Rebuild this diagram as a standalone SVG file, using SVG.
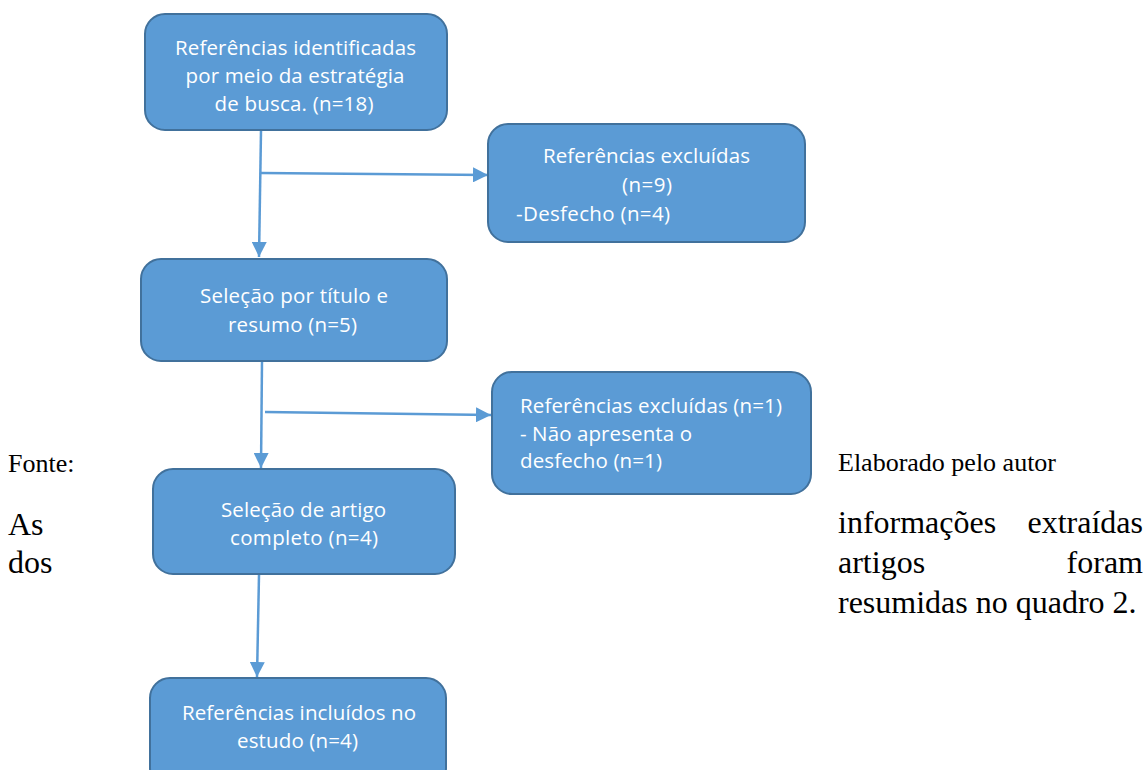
<svg xmlns="http://www.w3.org/2000/svg" width="1145" height="770" viewBox="0 0 1145 770">
<style>
.box{fill:#5b9bd5;stroke:#41719c;stroke-width:2}
.bt{font-family:"Open Sans","Noto Sans",sans-serif;font-size:20.5px;fill:#ffffff}
.c{text-anchor:middle}
.conn{stroke:#5b9bd5;stroke-width:2.5;fill:none;marker-end:url(#arr)}
.body{font-family:"Liberation Serif","Times New Roman",serif;fill:#000000}
.cap{font-size:26px}
.para{font-size:32px}
</style>
<defs>
<marker id="arr" markerUnits="userSpaceOnUse" markerWidth="16" markerHeight="15" refX="15" refY="7.5" orient="auto" viewBox="0 0 16 15">
<path d="M0,0 L15,7.5 L0,15 z" fill="#5b9bd5"/>
</marker>
</defs>
<rect width="1145" height="770" fill="#ffffff"/>
<g id="connectors">
<line class="conn" x1="261" y1="131" x2="259" y2="257"/>
<line class="conn" x1="261" y1="173" x2="488" y2="175"/>
<line class="conn" x1="262" y1="361" x2="261" y2="468"/>
<line class="conn" x1="265" y1="412" x2="491" y2="415"/>
<line class="conn" x1="259" y1="575" x2="257" y2="677"/>
</g>
<g id="n1">
<rect class="box" x="145" y="14" width="302" height="116" rx="20"/>
<text class="bt c" x="295.5" y="55" textLength="241">Referências identificadas</text>
<text class="bt c" x="295" y="83" textLength="219">por meio da estratégia</text>
<text class="bt c" x="294" y="111" textLength="159">de busca. (n=18)</text>
</g>
<g id="n2">
<rect class="box" x="488" y="124" width="317" height="118" rx="20"/>
<text class="bt c" x="646.5" y="163" textLength="207">Referências excluídas</text>
<text class="bt c" x="647" y="192" textLength="50">(n=9)</text>
<text class="bt" x="516" y="221" textLength="154">-Desfecho (n=4)</text>
</g>
<g id="n3">
<rect class="box" x="141" y="259" width="306" height="102" rx="20"/>
<text class="bt c" x="294" y="303" textLength="188">Seleção por título e</text>
<text class="bt c" x="292.5" y="332" textLength="129">resumo (n=5)</text>
</g>
<g id="n4">
<rect class="box" x="492" y="372" width="319" height="122" rx="20"/>
<text class="bt" x="520" y="413" textLength="262">Referências excluídas (n=1)</text>
<text class="bt" x="520" y="441" textLength="172">- Não apresenta o</text>
<text class="bt" x="520" y="468" textLength="142">desfecho (n=1)</text>
</g>
<g id="n5">
<rect class="box" x="153" y="469" width="302" height="105" rx="20"/>
<text class="bt c" x="303.5" y="517" textLength="165">Seleção de artigo</text>
<text class="bt c" x="304" y="545" textLength="148">completo (n=4)</text>
</g>
<g id="n6">
<rect class="box" x="150" y="678" width="296" height="110" rx="20"/>
<text class="bt c" x="299" y="720" textLength="234">Referências incluídos no</text>
<text class="bt c" x="297.5" y="748" textLength="121">estudo (n=4)</text>
</g>
<g id="page-text" class="body">
<text class="cap" x="8" y="472">Fonte:</text>
<text class="cap" x="838" y="471">Elaborado pelo autor</text>
<text class="para" x="8" y="535">As</text>
<text class="para" x="838" y="533">informações</text>
<text class="para" x="1143" y="533" text-anchor="end">extraídas</text>
<text class="para" x="8" y="573">dos</text>
<text class="para" x="838" y="573">artigos</text>
<text class="para" x="1143" y="573" text-anchor="end">foram</text>
<text class="para" x="838" y="613">resumidas no quadro 2.</text>
</g>
</svg>
